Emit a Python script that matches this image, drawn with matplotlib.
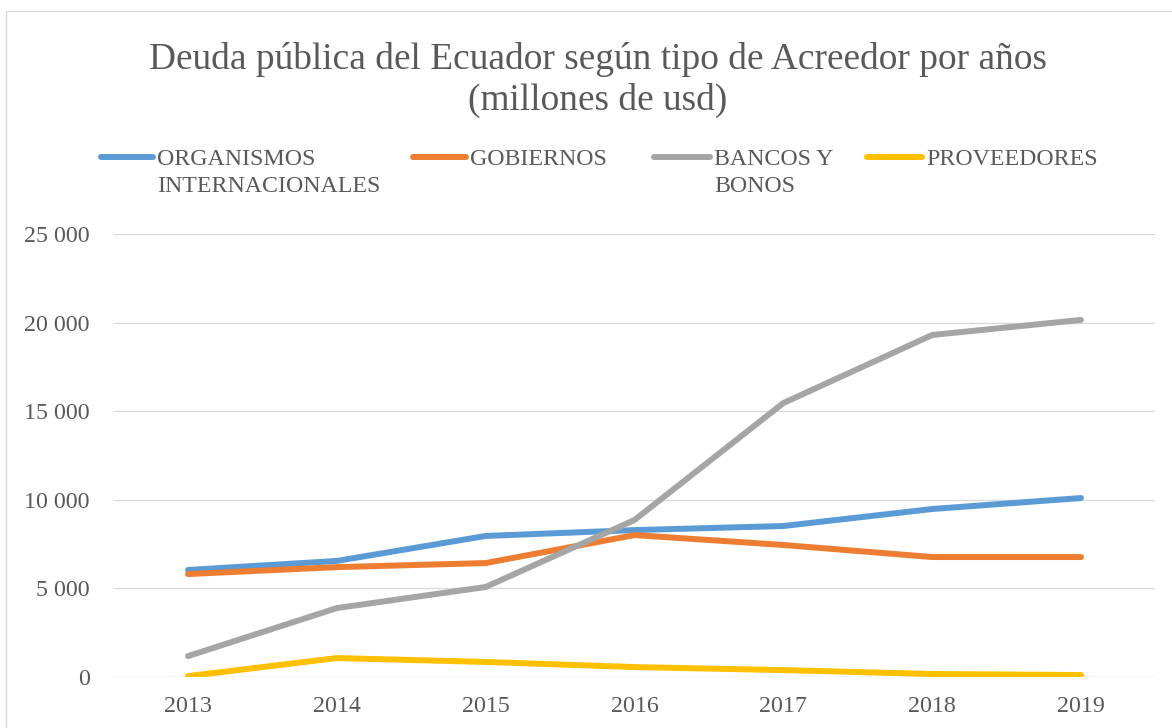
import matplotlib
matplotlib.use("Agg")
import matplotlib.pyplot as plt
from matplotlib.lines import Line2D
from matplotlib.patches import Rectangle
from matplotlib.ticker import FuncFormatter

# datos (millones de usd)
anios = ["2013", "2014", "2015", "2016", "2017", "2018", "2019"]
organismos = [6040, 6550, 7960, 8290, 8520, 9480, 10100]
gobiernos = [5810, 6200, 6430, 8010, 7450, 6770, 6770]
bancos = [1180, 3890, 5080, 8860, 15460, 19300, 20150]
proveedores = [50, 1070, 850, 560, 390, 170, 110]

nombres = ["ORGANISMOS\nINTERNACIONALES", "GOBIERNOS", "BANCOS Y\nBONOS", "PROVEEDORES"]
colores = ["#5B9BD5", "#ED7D31", "#A5A5A5", "#FFC000"]
series = [organismos, gobiernos, bancos, proveedores]

plt.rcParams['font.family'] = ['Liberation Serif', 'DejaVu Serif']
gris_txt = "#595959"

W, H = 1172, 728
fig = plt.figure(figsize=(W / 100, H / 100), dpi=100)

# borde del area del grafico
fig.patches.append(Rectangle((6 / W, -0.1), 1.2, 1 - 11 / H + 0.1, transform=fig.transFigure,
                             fill=False, edgecolor="#D9D9D9", linewidth=1.0))

ax = fig.add_axes([113.6 / W, 1 - 677 / H, (1155.4 - 113.6) / W, (677 - 234) / H])
x = list(range(len(anios)))
for s, c in zip(series, colores):
    ax.plot(x, s, color=c, linewidth=4.3, solid_capstyle="round", solid_joinstyle="round", zorder=3)

ax.set_xlim(-0.5, len(anios) - 0.5)
ax.set_ylim(0, 25000)
ax.set_yticks(range(0, 25001, 5000))
ax.yaxis.set_major_formatter(FuncFormatter(lambda v, p: f"{int(v):,}".replace(",", " ")))
ax.set_xticks(x)
ax.set_xticklabels(anios)
ax.grid(axis="y", color="#D9D9D9", linewidth=1.0, zorder=0)
for sp in ax.spines.values():
    sp.set_visible(False)
ax.tick_params(axis="both", length=0, labelsize=17.3, colors=gris_txt)
ax.tick_params(axis="y", pad=17)
ax.tick_params(axis="x", pad=14)

fig.text(598 / W, 1 - 80 / H, "Deuda pública del Ecuador según tipo de Acreedor por años\n(millones de usd)",
         ha="center", va="center", fontsize=26.9, color=gris_txt, linespacing=1.2)

# leyenda
pos = [(101, 153), (413, 466), (654, 710), (867, 922)]
for (x0, x1), nom, c in zip(pos, nombres, colores):
    fig.lines.append(Line2D([x0 / W, x1 / W], [1 - 157 / H, 1 - 157 / H], transform=fig.transFigure,
                            color=c, linewidth=4.3, solid_capstyle="round"))
    fig.text((x1 + 4) / W, 1 - 149 / H, nom, ha="left", va="top", fontsize=17.2,
             color=gris_txt, linespacing=1.4)

fig.savefig("out.png", dpi=100)
